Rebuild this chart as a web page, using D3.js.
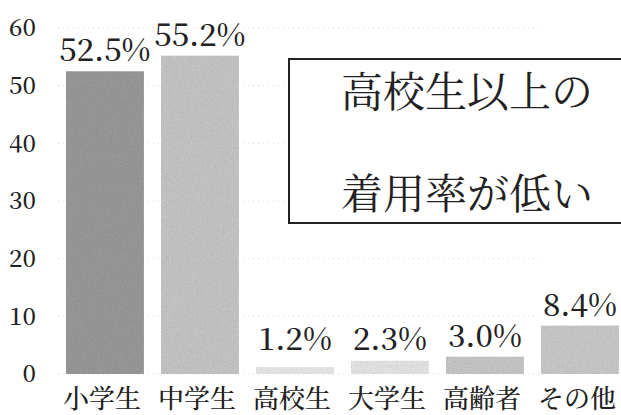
<!DOCTYPE html>
<html><head><meta charset="utf-8">
<script src="https://cdn.jsdelivr.net/npm/d3@7"></script>
<style>
html,body{margin:0;padding:0;background:#fff;}
svg{display:block;}
.num,.jp{font-family:"Noto Serif CJK JP","Noto Serif CJK SC",serif;}
</style>
</head><body>
<svg id="c" width="621" height="415"></svg>
<script>
const categories = ["小学生","中学生","高校生","大学生","高齢者","その他"];
const values = [52.5, 55.2, 1.2, 2.3, 3.0, 8.4];
const valueLabels = ["52.5%","55.2%","1.2%","2.3%","3.0%","8.4%"];
const barColors = ["#979797","#c3c3c3","#e4e4e4","#e2e2e2","#c4c4c4","#c6c6c6"];
const yTicks = [0,10,20,30,40,50,60];
const calloutLines = ["高校生以上の","着用率が低い"];

const svg = d3.select("#c");

const x = d3.scaleBand().domain(categories).range([56.5, 628.4]).paddingInner(0.18).paddingOuter(0.1);
const y = d3.scaleLinear().domain([0,60]).range([374, 28]);

// gridlines (dotted, faint)
svg.append("g").selectAll("line").data(yTicks).join("line")
  .attr("x1", 58).attr("x2", 540)
  .attr("y1", d=>y(d)).attr("y2", d=>y(d))
  .attr("stroke", "#dcdcdc").attr("stroke-width", 1)
  .attr("stroke-dasharray", "1,4");

// y axis labels
const yAxis = d3.axisLeft(y).tickValues(yTicks).tickSize(0).tickPadding(0).tickFormat(d3.format("d"));
const gy = svg.append("g").attr("transform","translate(36,0)").call(yAxis);
gy.attr("font-family", null);
gy.select(".domain").remove();
gy.selectAll("text").attr("class","num").style("font-size","24px").attr("font-weight",500).attr("fill","#222");

// subtle grain
const defs = svg.append("defs");
const f = defs.append("filter").attr("id","grain").attr("x",0).attr("y",0).attr("width",1).attr("height",1);
f.append("feTurbulence").attr("type","fractalNoise").attr("baseFrequency",1.2).attr("numOctaves",1).attr("seed",5).attr("result","n");
f.append("feColorMatrix").attr("in","n").attr("type","matrix")
  .attr("values","0 0 0 0 0  0 0 0 0 0  0 0 0 0 0  0 0 0 0.5 -0.22").attr("result","a");
f.append("feComposite").attr("in","a").attr("in2","SourceGraphic").attr("operator","in").attr("result","b");
f.append("feMerge").call(m=>{m.append("feMergeNode").attr("in","SourceGraphic");m.append("feMergeNode").attr("in","b");});

// bars
svg.append("g").selectAll("rect").data(categories).join("rect")
  .attr("x", d=>x(d)).attr("width", x.bandwidth())
  .attr("y", (d,i)=>y(values[i])).attr("height", (d,i)=>y(0)-y(values[i]))
  .attr("fill", (d,i)=>barColors[i])
  .attr("filter","url(#grain)");

// value labels
svg.append("g").selectAll("text").data(categories).join("text")
  .attr("class","num")
  .attr("x", d=>x(d)+x.bandwidth()/2)
  .attr("y", (d,i)=>Math.min(y(values[i]) - 10, 350))
  .attr("text-anchor","middle")
  .style("font-size","31px").attr("font-weight",500).attr("fill","#222")
  .text((d,i)=>valueLabels[i]);

// category labels
const xAxis = d3.axisBottom(x).tickSize(0).tickPadding(0);
const gx = svg.append("g").attr("transform","translate(-3,408)").call(xAxis);
gx.attr("font-family", null);
gx.select(".domain").remove();
gx.selectAll("text").attr("class","jp").style("font-size","26px").attr("font-weight",500).attr("fill","#222")
  .attr("dy","0");

// callout box
svg.append("rect").attr("x",289).attr("y",59).attr("width",345).attr("height",164)
  .attr("fill","#fff").attr("stroke","#222").attr("stroke-width",2);
svg.append("g").selectAll("text").data(calloutLines).join("text")
  .attr("class","jp")
  .attr("x", 467).attr("y",(d,i)=>i===0?89:191)
  .attr("text-anchor","middle").attr("dominant-baseline","central")
  .style("font-size","42px").attr("font-weight",400).attr("fill","#222")
  .text(d=>d);
</script>
</body></html>
